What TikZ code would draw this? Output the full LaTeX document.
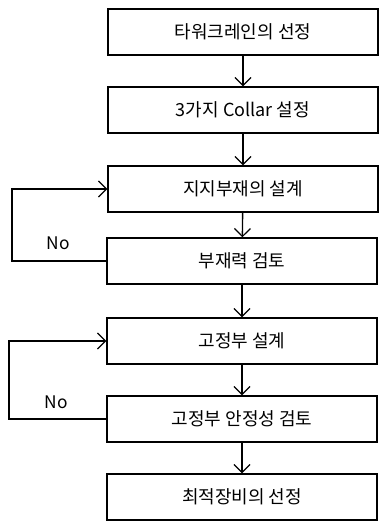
\documentclass[tikz,border=0pt]{standalone}
\usepackage{fontspec}
\setmainfont{Noto Sans CJK KR}
\usetikzlibrary{arrows.meta}
\begin{document}
\begin{tikzpicture}[x=0.75pt,y=-0.75pt,
  box/.style={draw,line width=1pt,minimum width=202.5pt,minimum height=34.5pt,inner sep=0pt,font=\fontsize{13.5pt}{16pt}\selectfont},
  conn/.style={line width=1pt,-{Straight Barb[length=6pt,width=12pt,line width=0.9pt]}},
  lbl/.style={font=\fontsize{13pt}{15pt}\selectfont}]
\useasboundingbox (0,0) rectangle (383,521);
\node[box] (b1) at (243,32) {타워크레인의 선정};
\node[box] (b2) at (243,110) {3가지 Collar 설정};
\node[box] (b3) at (243,189) {지지부재의 설계};
\node[box] (b4) at (242,261) {부재력 검토};
\node[box] (b5) at (242,341) {고정부 설계};
\node[box] (b6) at (242,419) {고정부 안정성 검토};
\node[box] (b7) at (242,497) {최적장비의 선정};
\draw[conn] (b1) -- (b2);
\draw[conn] (b2) -- (b3);
\draw[conn] (b3) -- (b4);
\draw[conn] (b4) -- (b5);
\draw[conn] (b5) -- (b6);
\draw[conn] (b6) -- (b7);
\coordinate (l1a) at (12,261);
\coordinate (l1b) at (12,189);
\coordinate (l2a) at (9,419);
\coordinate (l2b) at (9,341);
\draw[conn] (b4.west) -- (l1a) -- (l1b) -- (b3.west);
\draw[conn] (b6.west) -- (l2a) -- (l2b) -- (b5.west);
\node[lbl] (no1) at (58,243) {No};
\node[lbl] (no2) at (56,402) {No};
\end{tikzpicture}
\end{document}
